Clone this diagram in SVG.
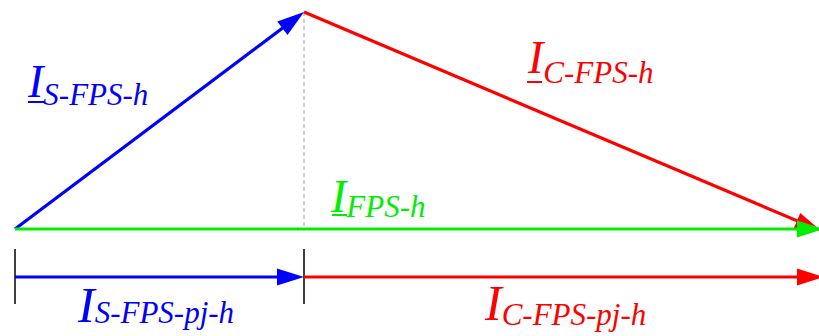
<svg xmlns="http://www.w3.org/2000/svg" width="819" height="336" viewBox="0 0 819 336">
<style>
.lbl{font-family:"Liberation Serif","Times New Roman",serif;font-style:italic}
.big{font-size:46px}
.big2{font-size:50px}
.sub{font-size:31px}
.b{fill:#0000ff}.r{fill:#ff0000}.g{fill:#00ee00}
</style>
<defs>
<marker id="ab" markerUnits="userSpaceOnUse" markerWidth="27" markerHeight="17" refX="17" refY="8.5" orient="auto" overflow="visible"><path d="M0,0 L27,8.5 L0,17 z" fill="#0000ff"/></marker>
<marker id="ar" markerUnits="userSpaceOnUse" markerWidth="27" markerHeight="17" refX="17" refY="8.5" orient="auto" overflow="visible"><path d="M0,0 L27,8.5 L0,17 z" fill="#ff0000"/></marker>
<marker id="ag" markerUnits="userSpaceOnUse" markerWidth="27" markerHeight="17" refX="17" refY="8.5" orient="auto" overflow="visible"><path d="M0,0 L27,8.5 L0,17 z" fill="#00ee00"/></marker>
</defs>
<rect width="819" height="336" fill="#ffffff"/>
<g id="connectors" fill="none">
<line x1="304" y1="12" x2="304" y2="229" stroke="#a0a0a0" stroke-width="1" stroke-dasharray="4,3"/>
<line x1="15" y1="229" x2="296" y2="18" stroke="#0000ff" stroke-width="3.2" marker-end="url(#ab)"/>
<line x1="304" y1="12" x2="812.6" y2="227.4" stroke="#ff0000" stroke-width="3.2" marker-end="url(#ar)"/>
<line x1="15" y1="229" x2="814" y2="229" stroke="#00ee00" stroke-width="3.2" marker-end="url(#ag)"/>
<line x1="15" y1="249" x2="15" y2="304" stroke="#000000" stroke-width="1.5"/>
<line x1="304" y1="249" x2="304" y2="304" stroke="#000000" stroke-width="1.5"/>
<line x1="15" y1="277" x2="294" y2="277" stroke="#0000ff" stroke-width="3" marker-end="url(#ab)"/>
<line x1="304" y1="277" x2="814" y2="277" stroke="#ff0000" stroke-width="3" marker-end="url(#ar)"/>
</g>
<g id="label-s-fps-h">
<text class="lbl b" x="28" y="97"><tspan class="big">I</tspan><tspan class="sub" dy="8">S-FPS-h</tspan></text>
<line x1="28" y1="102" x2="45" y2="102" stroke="#0000ff" stroke-width="2"/>
</g>
<g id="label-c-fps-h">
<text class="lbl r" x="528" y="73"><tspan class="big">I</tspan><tspan class="sub" dy="10">C-FPS-h</tspan></text>
<line x1="527" y1="82" x2="542" y2="82" stroke="#ff0000" stroke-width="2"/>
</g>
<g id="label-fps-h">
<text class="lbl g" x="331" y="212"><tspan class="big">I</tspan><tspan class="sub" dy="5">FPS-h</tspan></text>
<line x1="332" y1="215" x2="347" y2="215" stroke="#00ee00" stroke-width="2"/>
</g>
<g id="label-s-fps-pj-h">
<text class="lbl b" x="78" y="322"><tspan class="big2">I</tspan><tspan class="sub" dy="1">S-FPS-pj-h</tspan></text>
</g>
<g id="label-c-fps-pj-h">
<text class="lbl r" x="485" y="320"><tspan class="big2">I</tspan><tspan class="sub" dy="5">C-FPS-pj-h</tspan></text>
</g>
</svg>
